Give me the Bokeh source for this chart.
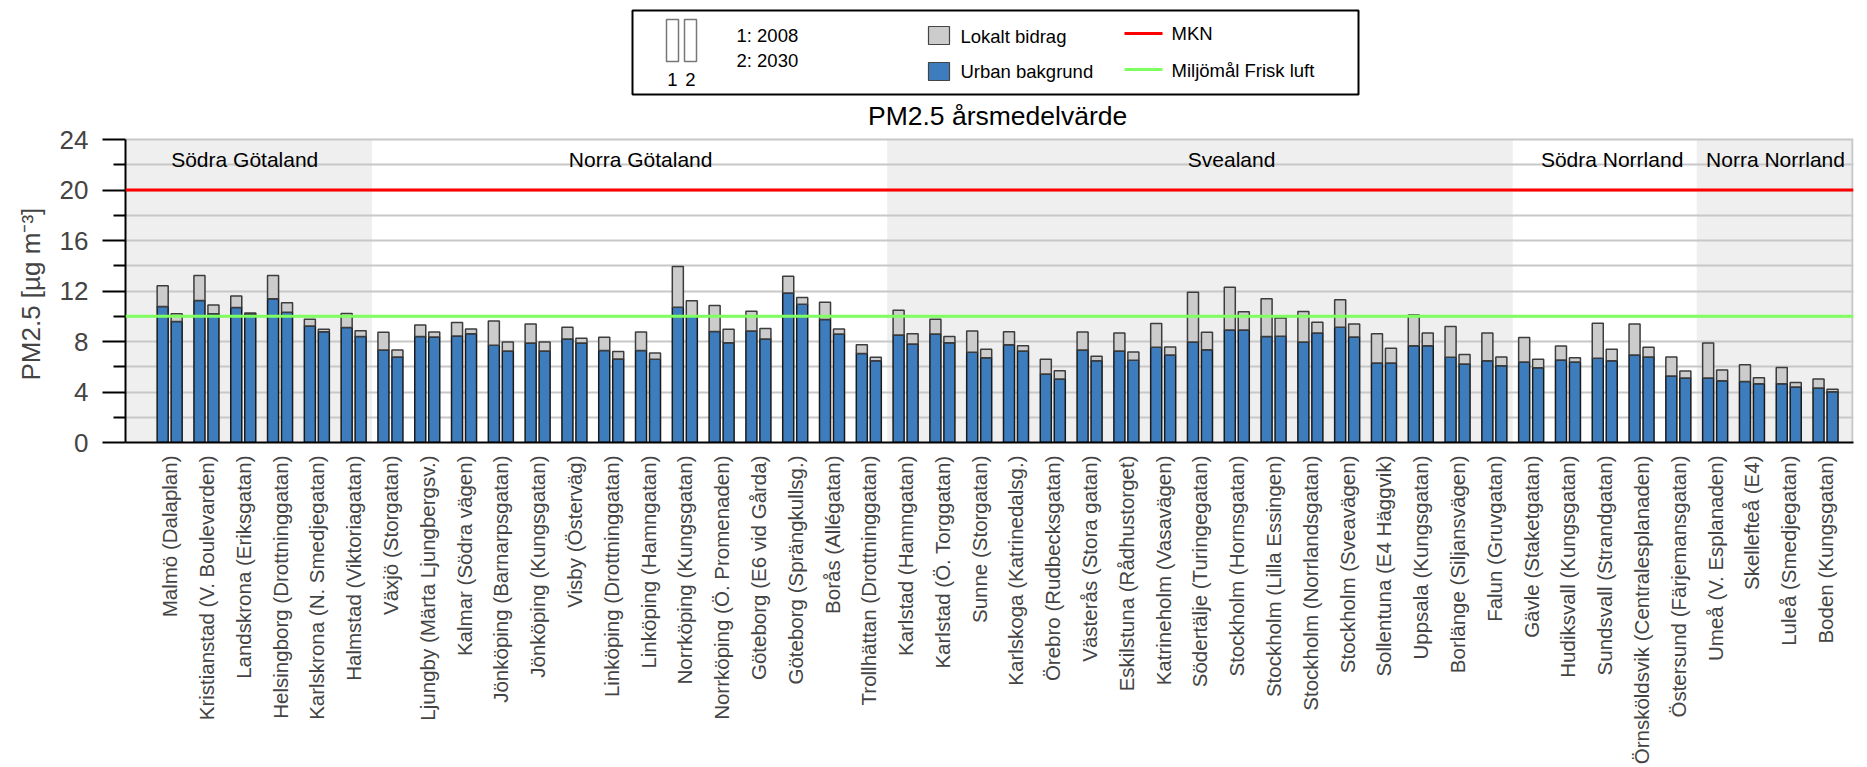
import math
from bokeh.plotting import figure
from bokeh.layouts import column
from bokeh.models import Range1d, FixedTicker, Span, Title
from bokeh.core.properties import value
from bokeh.embed import file_html
from bokeh.resources import INLINE

FONT = "Liberation Sans"
BLUE = "#3d7dbd"
GRAY = "#cccccc"
SHADE = "#efefef"
GRID = "#c8c8c8"
RED = "#ff0000"
GREEN = "#80ff60"

# ---------------- data ----------------
regions = ["Södra Götaland", "Norra Götaland", "Svealand", "Södra Norrland", "Norra Norrland"]
region_counts = [6, 14, 17, 5, 4]

stations = [
    "Malmö (Dalaplan)", "Kristianstad (V. Boulevarden)", "Landskrona (Eriksgatan)",
    "Helsingborg (Drottninggatan)", "Karlskrona (N. Smedjegatan)", "Halmstad (Viktoriagatan)",
    "Växjö (Storgatan)", "Ljungby (Märta Ljungbergsv.)", "Kalmar (Södra vägen)",
    "Jönköping (Barnarpsgatan)", "Jönköping (Kungsgatan)", "Visby (Österväg)",
    "Linköping (Drottninggatan)", "Linköping (Hamngatan)", "Norrköping (Kungsgatan)",
    "Norrköping (Ö. Promenaden)", "Göteborg (E6 vid Gårda)", "Göteborg (Sprängkullsg.)",
    "Borås (Allégatan)", "Trollhättan (Drottninggatan)", "Karlstad (Hamngatan)",
    "Karlstad (Ö. Torggatan)", "Sunne (Storgatan)", "Karlskoga (Katrinedalsg.)",
    "Örebro (Rudbecksgatan)", "Västerås (Stora gatan)", "Eskilstuna (Rådhustorget)",
    "Katrineholm (Vasavägen)", "Södertälje (Turingegatan)", "Stockholm (Hornsgatan)",
    "Stockholm (Lilla Essingen)", "Stockholm (Norrlandsgatan)", "Stockholm (Sveavägen)",
    "Sollentuna (E4 Häggvik)", "Uppsala (Kungsgatan)", "Borlänge (Siljansvägen)",
    "Falun (Gruvgatan)", "Gävle (Staketgatan)", "Hudiksvall (Kungsgatan)",
    "Sundsvall (Strandgatan)", "Örnsköldsvik (Centralesplanaden)", "Östersund (Färjemansgatan)",
    "Umeå (V. Esplanaden)", "Skellefteå (E4)", "Luleå (Smedjegatan)", "Boden (Kungsgatan)",
]

# Urban bakgrund (blue) and total = urban + lokalt bidrag (grey top), µg/m3
urban_2008 = [10.77, 11.24, 10.69, 11.38, 9.23, 9.10, 7.33, 8.39, 8.44, 7.70, 7.88, 8.20,
              7.28, 7.28, 10.71, 8.79, 8.84, 11.85, 9.74, 7.04, 8.52, 8.60, 7.14, 7.75,
              5.42, 7.33, 7.25, 7.54, 7.96, 8.92, 8.39, 7.97, 9.13, 6.30, 7.67, 6.75,
              6.48, 6.38, 6.53, 6.67, 6.93, 5.26, 5.11, 4.84, 4.66, 4.31]
total_2008 = [12.41, 13.23, 11.61, 13.23, 9.76, 10.21, 8.73, 9.31, 9.50, 9.63, 9.39, 9.13,
              8.33, 8.76, 13.94, 10.85, 10.40, 13.17, 11.11, 7.75, 10.48, 9.76, 8.84, 8.78,
              6.59, 8.76, 8.68, 9.42, 11.90, 12.30, 11.38, 10.37, 11.30, 8.62, 10.10, 9.18,
              8.68, 8.31, 7.65, 9.44, 9.39, 6.77, 7.88, 6.16, 5.95, 5.03]
urban_2030 = [9.58, 10.19, 10.20, 10.32, 8.78, 8.39, 6.77, 8.36, 8.62, 7.25, 7.25, 7.88,
              6.61, 6.59, 10.00, 7.91, 8.20, 10.95, 8.60, 6.48, 7.80, 7.91, 6.72, 7.25,
              5.03, 6.48, 6.51, 6.93, 7.35, 8.92, 8.41, 8.68, 8.36, 6.30, 7.67, 6.22,
              6.08, 5.93, 6.38, 6.48, 6.77, 5.11, 4.89, 4.66, 4.39, 4.02]
total_2030 = [10.19, 10.90, 10.25, 11.06, 8.97, 8.86, 7.33, 8.76, 9.00, 7.96, 7.96, 8.25,
              7.20, 7.09, 11.22, 8.97, 9.02, 11.48, 9.00, 6.75, 8.62, 8.39, 7.38, 7.67,
              5.69, 6.83, 7.17, 7.57, 8.73, 10.36, 9.87, 9.52, 9.39, 7.46, 8.68, 6.98,
              6.77, 6.59, 6.72, 7.38, 7.54, 5.66, 5.74, 5.13, 4.76, 4.21]

years = ["2008", "2030"]
y_ticks = [0, 4, 8, 12, 16, 20, 24]
y_minor = [2, 6, 10, 14, 18, 22]
mkn_level = 20
miljomal_level = 10
legend_labels = ["Lokalt bidrag", "Urban bakgrund", "MKN", "Miljömål Frisk luft"]
title_text = "PM2.5 årsmedelvärde"
y_label = "PM2.5 [µg m⁻³]"

# ---------------- layout constants ----------------
W = 1867
H = 767
TOP_H = 96                  # legend strip height
BL, BR = 125, 14            # left/right borders -> frame from x=125 to x=1853
FRAME_TOP, FRAME_BOTTOM = 139, 442   # page y of value 24 and of value 0
Y_MAX = y_ticks[-1]
PX = (FRAME_BOTTOM - FRAME_TOP) / Y_MAX          # px per unit
Y_TOP = Y_MAX + (FRAME_TOP - TOP_H) / PX         # frame extends up to the legend strip
X0, X1 = -1.2, 45.76
OFF = 0.19
BW = 0.3
LFS = "18.5px"
TITLE_X = 22.5
TITLE_UP = 24               # px above the 24-line
YLAB_OFFSET = 62            # px from frame bottom to start of the y label

# ---------------- legend figure (pixel coords, frame aligned with chart) ----------------
top = figure(width=W, height=TOP_H, x_range=Range1d(BL, W - BR), y_range=Range1d(TOP_H, 0),
             x_axis_type=None, y_axis_type=None, output_backend="svg", toolbar_location=None,
             min_border_left=BL, min_border_right=BR, min_border_top=0, min_border_bottom=0)
top.grid.visible = False
top.outline_line_color = None

top.quad(left=[632], right=[1358], top=[10], bottom=[94], fill_alpha=0,
         line_color="black", line_width=2)
top.quad(left=[666, 684], right=[678, 696], top=[19, 19], bottom=[61, 61],
         fill_color="white", line_color="#777777", line_width=1.5)
top.text(x=[672, 690], y=[79, 79], text=["1", "2"], text_font=value(FONT),
         text_font_size=LFS, text_align="center", text_baseline="middle")
top.text(x=[736, 736], y=[35, 60], text=[f"1: {years[0]}", f"2: {years[1]}"],
         text_font=value(FONT), text_font_size=LFS, text_align="left", text_baseline="middle")
top.quad(left=[928, 928], right=[949, 949], top=[26, 62], bottom=[44, 80],
         fill_color=[GRAY, BLUE], line_color="#444444", line_width=1.2)
top.text(x=[960, 960], y=[36, 71], text=legend_labels[:2], text_font=value(FONT),
         text_font_size=LFS, text_align="left", text_baseline="middle")
top.segment(x0=[1124, 1124], x1=[1162, 1162], y0=[33, 69], y1=[33, 69],
            line_color=[RED, GREEN], line_width=3)
top.text(x=[1171, 1171], y=[33, 70], text=legend_labels[2:], text_font=value(FONT),
         text_font_size=LFS, text_align="left", text_baseline="middle")

# ---------------- main chart ----------------
p = figure(width=W, height=H - TOP_H, x_range=Range1d(X0, X1), y_range=Range1d(0, Y_TOP),
           output_backend="svg", toolbar_location=None,
           min_border_left=BL, min_border_right=BR, min_border_top=0,
           min_border_bottom=H - FRAME_BOTTOM)
p.outline_line_color = None

# region shading & labels
starts = [sum(region_counts[:k]) for k in range(len(region_counts))]
ends = [s + c for s, c in zip(starts, region_counts)]
lefts = [X0 if k == 0 else s - 0.5 for k, s in enumerate(starts)]
rights = [X1 if k == len(ends) - 1 else e - 0.5 for k, e in enumerate(ends)]
shade_idx = [0, 2, 4]
p.quad(left=[lefts[k] for k in shade_idx], right=[rights[k] for k in shade_idx],
       bottom=0, top=Y_MAX, fill_color=SHADE, line_color=None, level="image")
# right border of the plotting box
p.segment(x0=[X1 - 0.03], x1=[X1 - 0.03], y0=[0], y1=[Y_MAX], line_color=GRID,
          line_width=2, level="underlay")

label_shift = [-0.46, 0.3, 0.86, 0.2, 0.14]
centers = [(s + e - 1) / 2 + d for s, e, d in zip(starts, ends, label_shift)]
p.text(x=centers, y=[22.4] * len(regions), text=regions, text_font=value(FONT),
       text_font_size="21px", text_align="center", text_baseline="middle")

n = len(stations)
xs1 = [i - OFF for i in range(n)]
xs2 = [i + OFF for i in range(n)]
for xs, urb, tot in ((xs1, urban_2008, total_2008), (xs2, urban_2030, total_2030)):
    p.vbar(x=xs, bottom=0, top=urb, width=BW, fill_color=BLUE,
           line_color="#1a1a1a", line_width=1.5)
    p.vbar(x=xs, bottom=urb, top=tot, width=BW, fill_color=GRAY,
           line_color="#3c3c3c", line_width=1.5)

p.add_layout(Span(location=mkn_level, dimension="width", line_color=RED, line_width=3))
p.add_layout(Span(location=miljomal_level, dimension="width", line_color=GREEN, line_width=3))

# chart title above the 24-line
p.text(x=[TITLE_X], y=[Y_MAX + TITLE_UP / PX], text=[title_text], text_font=value(FONT),
       text_font_size="26.5px", text_align="center", text_baseline="middle")

# axes
p.xgrid.grid_line_color = None
p.ygrid.grid_line_color = GRID
p.ygrid.grid_line_width = 2
p.ygrid.minor_grid_line_color = GRID
p.ygrid.minor_grid_line_width = 2

p.yaxis.ticker = FixedTicker(ticks=y_ticks, minor_ticks=y_minor)
p.yaxis.bounds = (0, Y_MAX)
p.yaxis.axis_line_width = 2
p.yaxis.axis_line_color = "black"
p.yaxis.major_tick_out = 23
p.yaxis.major_tick_in = 0
p.yaxis.major_tick_line_width = 2
p.yaxis.minor_tick_out = 12
p.yaxis.minor_tick_in = 0
p.yaxis.minor_tick_line_width = 2
p.yaxis.major_label_standoff = 14
p.yaxis.major_label_text_font = FONT
p.yaxis.major_label_text_font_size = "26px"

# y-axis title, placed along the 0..24 part of the axis
p.add_layout(Title(text=y_label, align="left", offset=YLAB_OFFSET, standoff=22,
                   text_font=FONT, text_font_size="26px", text_font_style="normal"), "left")

p.xaxis.ticker = FixedTicker(ticks=list(range(n)))
p.xaxis.major_label_overrides = {i: s for i, s in enumerate(stations)}
p.xaxis.major_label_orientation = math.pi / 2
p.xaxis.major_tick_line_color = None
p.xaxis.major_tick_out = 0
p.xaxis.minor_tick_line_color = None
p.xaxis.axis_line_width = 2
p.xaxis.axis_line_color = "black"
p.xaxis.major_label_standoff = 13
p.xaxis.major_label_text_font = FONT
p.xaxis.major_label_text_font_size = "20.5px"

layout = column(top, p, spacing=0)
open("out.html", "w").write(file_html(layout, INLINE))
